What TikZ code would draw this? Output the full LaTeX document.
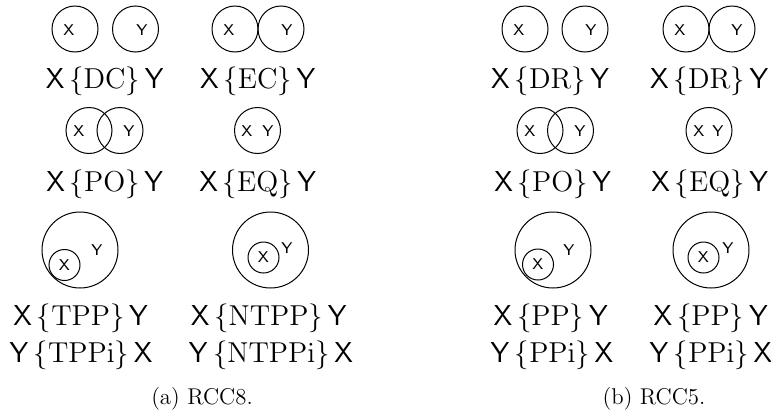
\documentclass[tikz,border=0pt]{standalone}
\usepackage{tikz}
\usetikzlibrary{positioning}
\newcommand{\rel}[3]{$\mathsf{#1}\,\{\mathrm{#2}\}\,\mathsf{#3}$}
\begin{document}
\begin{tikzpicture}[x=0.5pt, y=-0.5pt,
    region/.style={draw, circle, line width=0.5pt, inner sep=0pt, minimum size=23pt},
    outer/.style={region, minimum size=38pt},
    inner/.style={region, minimum size=15.5pt},
    lab/.style={inner sep=0pt, font=\fontsize{7.8}{9}\sffamily},
    reltext/.style={anchor=base, inner sep=0pt, font=\fontsize{14.4}{17}\selectfont},
    captext/.style={anchor=base, inner sep=0pt, font=\fontsize{11.4}{13}\selectfont}]
\useasboundingbox (0,0) rectangle (771,413);
%
% (a) RCC8
\node[region] (dcx) at (75,29) {};
\node[region] (dcy) at (135.5,29) {};
\node[lab] at (69,30) {X};
\node[lab] at (142,30) {Y};
\node[reltext] (dc) at (105,88) {\rel{X}{DC}{Y}};
%
\node[region] (ecx) at (235,29) {};
\node[region] (ecy) at (281,29) {};
\node[lab] at (229,30) {X};
\node[lab] at (287,30) {Y};
\node[reltext] (ec) at (258,88) {\rel{X}{EC}{Y}};
%
\node[region] (pox) at (89,130.5) {};
\node[region] (poy) at (120,130.5) {};
\node[lab] at (79,131) {X};
\node[lab] at (129,131) {Y};
\node[reltext] (po) at (105,191) {\rel{X}{PO}{Y}};
%
\node[region] (eqxy) at (257.5,130.5) {};
\node[lab] at (247,131) {X};
\node[lab] at (268,131) {Y};
\node[reltext] (eq) at (258,191) {\rel{X}{EQ}{Y}};
%
\node[outer] (tppy) at (80,250) {};
\node[inner] (tppx) at (64.5,265) {};
\node[lab] at (tppx) {X};
\node[lab] at (97,250) {Y};
\node[reltext] (tpp) at (81,325) {\rel{X}{TPP}{Y}};
\node[reltext] (tppi) at (81,362) {\rel{Y}{TPPi}{X}};
%
\node[outer] (ntppy) at (270.5,250) {};
\node[inner] (ntppx) at (263.5,257.5) {};
\node[lab] at (ntppx) {X};
\node[lab] at (287,248) {Y};
\node[reltext] (ntpp) at (269,325) {\rel{X}{NTPP}{Y}};
\node[reltext] (ntppi) at (271,362) {\rel{Y}{NTPPi}{X}};
%
\node[captext] (capa) at (202,404) {(a) RCC8.};
%
% (b) RCC5
\node[region] (drx) at (525,29) {};
\node[region] (dry) at (585,29) {};
\node[lab] at (519,30) {X};
\node[lab] at (591,30) {Y};
\node[reltext] (dr) at (550.5,88) {\rel{X}{DR}{Y}};
%
\node[region] (drbx) at (686,29) {};
\node[region] (drby) at (732,29) {};
\node[lab] at (680,30) {X};
\node[lab] at (737,30) {Y};
\node[reltext] (drb) at (709.5,88) {\rel{X}{DR}{Y}};
%
\node[region] (pobx) at (540,130.5) {};
\node[region] (poby) at (570.5,130.5) {};
\node[lab] at (530,131) {X};
\node[lab] at (580,131) {Y};
\node[reltext] (pob) at (553,191) {\rel{X}{PO}{Y}};
%
\node[region] (eqbxy) at (709,130.5) {};
\node[lab] at (699,131) {X};
\node[lab] at (718,131) {Y};
\node[reltext] (eqb) at (710,191) {\rel{X}{EQ}{Y}};
%
\node[outer] (ppy) at (553,250) {};
\node[inner] (ppx) at (538,264.5) {};
\node[lab] at (ppx) {X};
\node[lab] at (569,250) {Y};
\node[reltext] (pp) at (551,325) {\rel{X}{PP}{Y}};
\node[reltext] (ppi) at (552,362) {\rel{Y}{PPi}{X}};
%
\node[outer] (ppby) at (711,250) {};
\node[inner] (ppbx) at (703.5,257.5) {};
\node[lab] at (ppbx) {X};
\node[lab] at (728,248) {Y};
\node[reltext] (ppb) at (711,325) {\rel{X}{PP}{Y}};
\node[reltext] (ppbi) at (711,362) {\rel{Y}{PPi}{X}};
%
\node[captext] (capb) at (654,404) {(b) RCC5.};
\end{tikzpicture}
\end{document}
